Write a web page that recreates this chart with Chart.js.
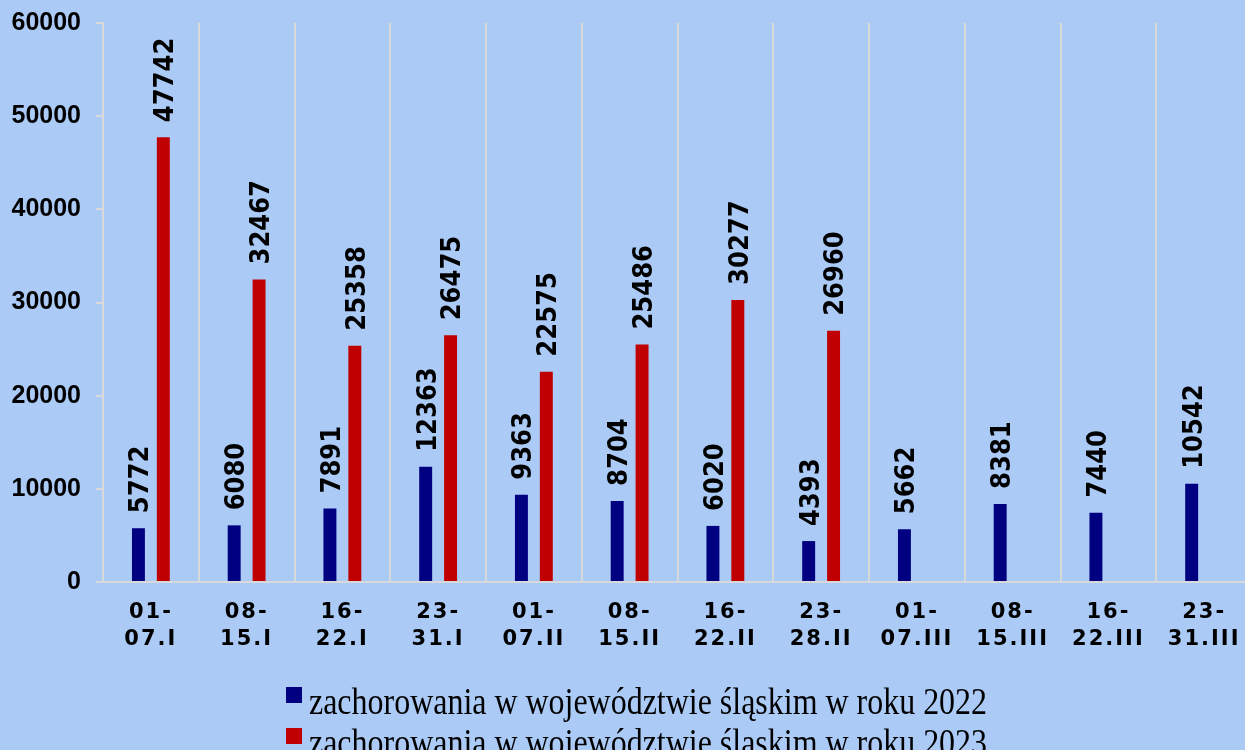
<!DOCTYPE html>
<html><head><meta charset="utf-8">
<script src="https://cdn.jsdelivr.net/npm/chart.js@4.4.1/dist/chart.umd.min.js"></script>
<style>
html,body{margin:0;padding:0;background:#abcaf6;width:1245px;height:750px;overflow:hidden;}
#wrap{position:relative;width:1245px;height:750px;overflow:hidden;background:#abcaf6;}
canvas{position:absolute;left:0;top:0;}
.legtext{position:absolute;left:309px;white-space:nowrap;font-family:"Liberation Serif","Times New Roman",serif;font-size:38px;line-height:38px;color:#000;transform-origin:0 0;transform:scaleX(0.841);}
.legbox{position:absolute;left:286px;width:16px;height:16px;}
</style></head><body>
<div id="wrap"><canvas id="c" width="1252" height="750"></canvas><div id="legend"></div></div>
<script>
const categories = [
  ['01-','07.I'], ['08-','15.I'], ['16-','22.I'], ['23-','31.I'],
  ['01-','07.II'], ['08-','15.II'], ['16-','22.II'], ['23-','28.II'],
  ['01-','07.III'], ['08-','15.III'], ['16-','22.III'], ['23-','31.III']
];
const values2022 = [5772, 6080, 7891, 12363, 9363, 8704, 6020, 4393, 5662, 8381, 7440, 10542];
const values2023 = [47742, 32467, 25358, 26475, 22575, 25486, 30277, 26960, null, null, null, null];
const seriesNames = [
  'zachorowania w województwie śląskim w roku 2022',
  'zachorowania w województwie śląskim w roku 2023'
];
const seriesColors = ['#000080', '#c00000'];
const yTicks = [0, 10000, 20000, 30000, 40000, 50000, 60000];

const valueLabels = {
  id: 'valueLabels',
  afterDatasetsDraw(chart) {
    const ctx = chart.ctx;
    const fs = 27, capH = 0.729 * fs;
    chart.data.datasets.forEach((ds, di) => {
      const meta = chart.getDatasetMeta(di);
      meta.data.forEach((bar, i) => {
        const v = ds.data[i];
        if (v === null || v === undefined) return;
        ctx.save();
        ctx.translate(bar.x + capH / 2, bar.y - 15);
        ctx.rotate(-Math.PI / 2);
        ctx.scale(0.9, 1);
        ctx.font = 'bold ' + fs + 'px "DejaVu Sans"';
        ctx.fillStyle = '#000';
        ctx.textAlign = 'left';
        ctx.textBaseline = 'alphabetic';
        ctx.fillText(String(v), 0, 0);
        ctx.restore();
      });
    });
  }
};

const xLabels = {
  id: 'xLabels',
  afterDraw(chart) {
    const ctx = chart.ctx;
    const xs = chart.scales.x;
    const bottom = chart.chartArea.bottom;
    ctx.save();
    ctx.font = 'bold 21px "DejaVu Sans"';
    try { ctx.letterSpacing = '2px'; } catch (e) {}
    ctx.fillStyle = '#000';
    ctx.textAlign = 'center';
    ctx.textBaseline = 'alphabetic';
    categories.forEach((c, i) => {
      const x = xs.getPixelForValue(i);
      ctx.fillText(c[0], x, bottom + 36);
      ctx.fillText(c[1], x, bottom + 63);
    });
    ctx.restore();
  }
};

const bg = {
  id: 'bg',
  beforeDraw(chart) {
    const ctx = chart.ctx;
    ctx.save();
    ctx.fillStyle = '#abcaf6';
    ctx.fillRect(0, 0, chart.width, chart.height);
    ctx.restore();
  }
};

const chart = new Chart(document.getElementById('c').getContext('2d'), {
  type: 'bar',
  data: {
    labels: categories.map(c => c.join(' ')),
    datasets: [
      { label: seriesNames[0], data: values2022, backgroundColor: seriesColors[0], categoryPercentage: 0.52, barPercentage: 0.52 },
      { label: seriesNames[1], data: values2023, backgroundColor: seriesColors[1], categoryPercentage: 0.52, barPercentage: 0.52 }
    ]
  },
  options: {
    responsive: false,
    animation: false,
    devicePixelRatio: 1,
    layout: { padding: { top: 23, left: 0, right: 0, bottom: 0 } },
    plugins: { legend: { display: false }, tooltip: { enabled: false } },
    scales: {
      x: {
        grid: { display: true, offset: true, color: '#d9d9d9', lineWidth: 2, drawTicks: false, tickLength: 0 },
        border: { display: true, color: '#d9d9d9', width: 2 },
        ticks: { display: false },
        afterFit: s => { s.height = 168; s.paddingLeft = 0; s.paddingRight = 0; }
      },
      y: {
        min: yTicks[0], max: yTicks[yTicks.length - 1],
        afterBuildTicks: s => { s.ticks = yTicks.map(v => ({ value: v })); },
        ticks: { color: '#000', font: { family: '"Liberation Sans", Arial, sans-serif', size: 25, weight: 'bold' }, padding: 15, callback: v => String(v) },
        grid: { drawOnChartArea: false, drawTicks: true, tickLength: 7, color: '#d9d9d9', lineWidth: 2 },
        border: { display: true, color: '#d9d9d9', width: 2 },
        afterFit: s => { s.width = 103; s.paddingTop = 0; s.paddingBottom = 0; }
      }
    }
  },
  plugins: [bg, valueLabels, xLabels]
});

const leg = document.getElementById('legend');
seriesNames.forEach((name, i) => {
  const box = document.createElement('div');
  box.className = 'legbox';
  box.style.top = (687 + i * 41) + 'px';
  box.style.background = seriesColors[i];
  leg.appendChild(box);
  const t = document.createElement('div');
  t.className = 'legtext';
  t.style.top = (682 + i * 41) + 'px';
  t.textContent = name;
  leg.appendChild(t);
});
</script>
</body></html>
